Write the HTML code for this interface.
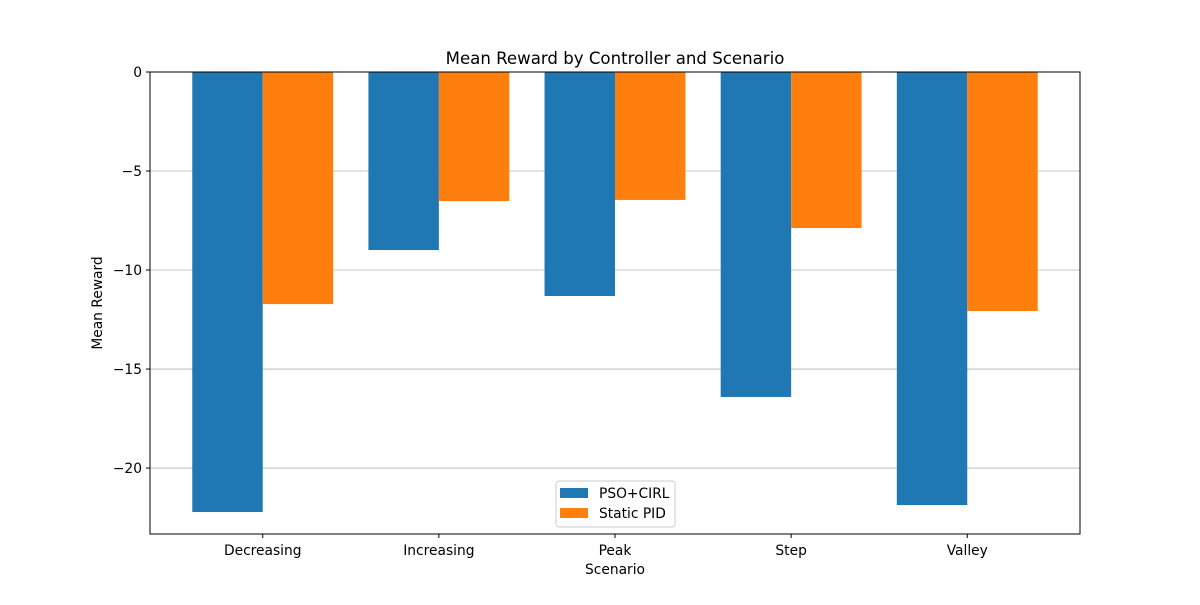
<!DOCTYPE html>
<html><head><meta charset="utf-8"><style>
body{margin:0;background:#fff;}
svg text{font-family:"DejaVu Sans","Liberation Sans",sans-serif;fill:#000;}
</style></head><body>
<svg id="chart" width="1200" height="600"></svg>
<script>
const categories = ["Decreasing","Increasing","Peak","Step","Valley"];
const psoValues = [-22.22,-8.99,-11.31,-16.41,-21.87];
const pidValues = [-11.72,-6.52,-6.46,-7.88,-12.07];
const yTicks = [0,-5,-10,-15,-20];
const seriesNames = ["PSO+CIRL","Static PID"];
const colors = ["#1f77b4","#ff7f0e"];

const L=150,R=1080,T=72,B=534;
const yMin=-23.33,yMax=0;
const xMin=-0.64,xMax=4.64;
const xs=v=>L+(v-xMin)/(xMax-xMin)*(R-L);
const ys=v=>T+(yMax-v)/(yMax-yMin)*(B-T);
const svg=document.getElementById('chart');
const NS="http://www.w3.org/2000/svg";
function mk(tag,attrs,parent){const e=document.createElementNS(NS,tag);for(const k in attrs)e.setAttribute(k,attrs[k]);(parent||svg).appendChild(e);return e;}

const grid=mk('g',{});


yTicks.forEach(t=>{const l=mk('line',{x1:L,x2:R,y1:ys(t),y2:ys(t),stroke:'#b0b0b0','stroke-width':0.8},grid);

});

const bw=0.4;
[psoValues,pidValues].forEach((vals,si)=>{
 vals.forEach((v,i)=>{
  const c=i+(si===0?-0.2:0.2);
  const x0=xs(c-bw/2),x1=xs(c+bw/2);
  const r=mk('rect',{x:x0,y:ys(0),width:x1-x0,height:ys(v)-ys(0),fill:colors[si]});
  
  
 });
});

const frame=mk('rect',{x:L,y:T,width:R-L,height:B-T,fill:'none',stroke:'#000','stroke-width':1});



yTicks.forEach(t=>{
 mk('line',{x1:L-4,x2:L,y1:ys(t),y2:ys(t),stroke:'#000'});
 const tx=mk('text',{x:L-8,y:ys(t)+5,'text-anchor':'end','font-size':13.8});
 tx.textContent=(t<0?'\u2212'+(-t):t);
 
 
});
categories.forEach((c,i)=>{
 mk('line',{x1:xs(i),x2:xs(i),y1:B,y2:B+4,stroke:'#000'});
 const tx=mk('text',{x:xs(i),y:B+21,'text-anchor':'middle','font-size':13.8});
 tx.textContent=c;
 
 
});

const title=mk('text',{x:(L+R)/2,y:64,'text-anchor':'middle','font-size':16.6});
title.textContent='Mean Reward by Controller and Scenario';


const xt=mk('text',{x:(L+R)/2,y:574,'text-anchor':'middle','font-size':13.8});
xt.textContent='Scenario';


const yt=mk('text',{x:0,y:0,'text-anchor':'middle','font-size':13.8,transform:`translate(102,${(T+B)/2}) rotate(-90)`});
yt.textContent='Mean Reward';



const lg=mk('g',{});


mk('rect',{x:556,y:481,width:119,height:46,rx:3,fill:'#fff','fill-opacity':0.8,stroke:'#ccc'},lg);
seriesNames.forEach((n,i)=>{
 const e=mk('g',{},lg);
 
 
 mk('rect',{x:560,y:488+i*20,width:28,height:10,fill:colors[i]},e);
 const tx=mk('text',{x:599,y:498+i*20,'font-size':13.8},e);
 tx.textContent=n;
});
</script>
</body></html>
